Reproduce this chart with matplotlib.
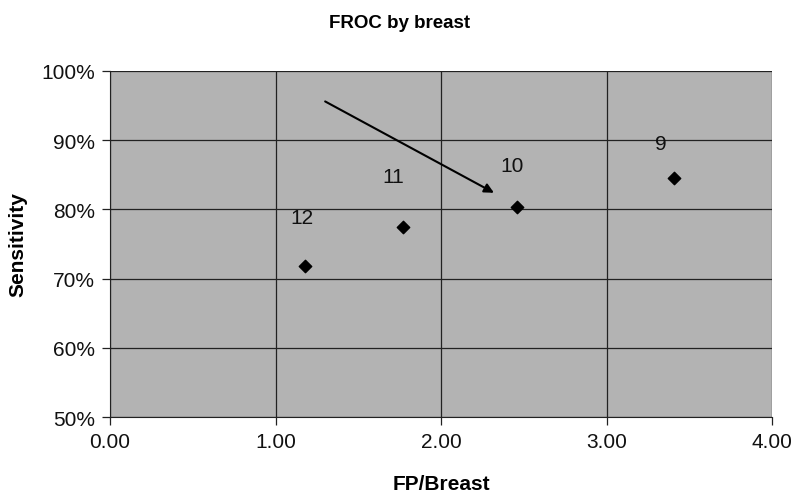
import matplotlib
matplotlib.use("Agg")
import matplotlib.pyplot as plt
from matplotlib.ticker import PercentFormatter

plt.rcParams['font.family'] = ['Liberation Sans', 'DejaVu Sans']

fp_per_breast = [1.18, 1.77, 2.46, 3.41]
sensitivity = [71.8, 77.4, 80.3, 84.5]
point_labels = ["12", "11", "10", "9"]
label_x = [1.16, 1.71, 2.43, 3.33]
label_y = [78.8, 84.7, 86.4, 89.5]
arrow_start = (1.30, 95.6)
arrow_end = (2.32, 82.4)
x_ticks = [0, 1, 2, 3, 4]
y_ticks = [50, 60, 70, 80, 90, 100]

fig = plt.figure(figsize=(8, 5.02), dpi=100)
ax = fig.add_axes([0.1375, 0.1673, 0.8275, 0.6893])
ax.set_facecolor('#b3b3b3')

ax.scatter(fp_per_breast, sensitivity, marker='D', s=40, color='black', zorder=3)
for t, lx, ly in zip(point_labels, label_x, label_y):
    ax.text(lx, ly, t, ha='center', va='center', fontsize=15, color='#111111', zorder=4)

ax.annotate('', xy=arrow_end, xytext=arrow_start,
            arrowprops=dict(arrowstyle='-|>', color='black', lw=1.5,
                            mutation_scale=14, shrinkA=0, shrinkB=0), zorder=4)

ax.set_xlim(0, 4)
ax.set_ylim(50, 100)
ax.set_xticks(x_ticks)
ax.set_yticks(y_ticks)
ax.set_xticklabels([f"{v:.2f}" for v in x_ticks])
ax.yaxis.set_major_formatter(PercentFormatter(decimals=0))
ax.grid(True, color='#222222', linewidth=0.9)
ax.set_axisbelow(True)
for side in ['top', 'right']:
    ax.spines[side].set_visible(False)
for side in ['left', 'bottom']:
    ax.spines[side].set_color('#222222')
ax.tick_params(axis='both', direction='out', length=6, width=0.9, colors='#222222',
               labelsize=15, labelcolor='#111111', pad=5)

ax.set_xlabel('FP/Breast', fontsize=15, fontweight='bold', labelpad=16)
ax.set_ylabel('Sensitivity', fontsize=15, fontweight='bold', labelpad=10)
fig.suptitle('FROC by breast', fontsize=13.5, fontweight='bold', y=0.97)

fig.savefig('out.png', dpi=100, facecolor='white')
